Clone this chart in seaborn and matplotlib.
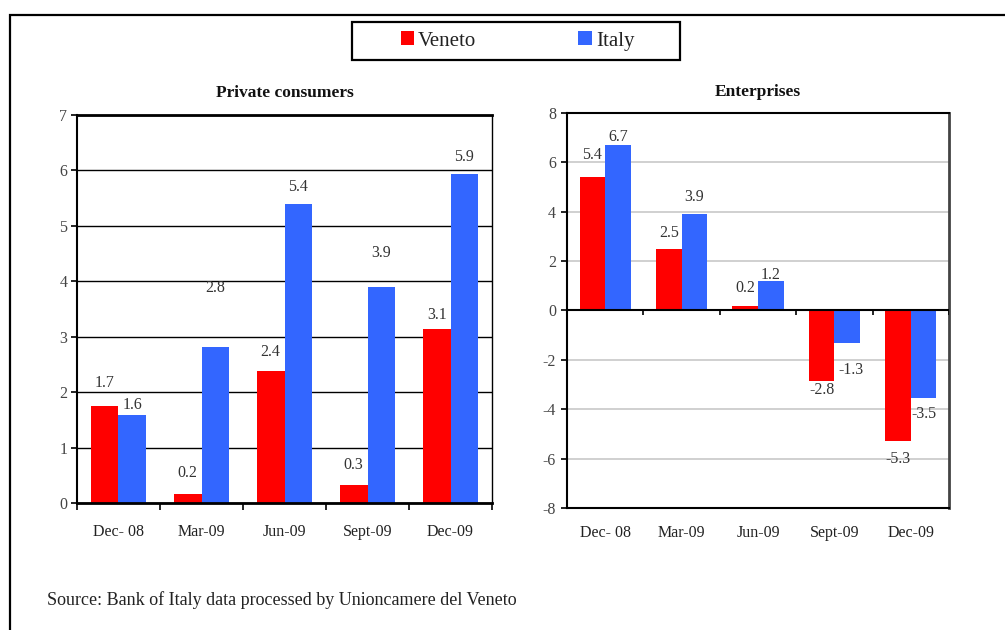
import numpy as np
import pandas as pd
import seaborn as sns
import matplotlib.pyplot as plt
from matplotlib.patches import Rectangle, Patch

# Data
periods = ["Dec- 08", "Mar-09", "Jun-09", "Sept-09", "Dec-09"]
series = ["Veneto", "Italy"]
colors = ["#FF0000", "#3366FF"]

private_veneto = [1.75, 0.17, 2.38, 0.33, 3.14]
private_italy = [1.58, 2.82, 5.40, 3.90, 5.94]
private_veneto_lbl = ["1.7", "0.2", "2.4", "0.3", "3.1"]
private_italy_lbl = ["1.6", "2.8", "5.4", "3.9", "5.9"]

ent_veneto = [5.40, 2.50, 0.18, -2.85, -5.30]
ent_italy = [6.70, 3.90, 1.20, -1.30, -3.55]
ent_veneto_lbl = ["5.4", "2.5", "0.2", "-2.8", "-5.3"]
ent_italy_lbl = ["6.7", "3.9", "1.2", "-1.3", "-3.5"]

source_text = "Source: Bank of Italy data processed by Unioncamere del Veneto"

# label offsets from bar end, in pixels (as placed in the original)
private_veneto_off = [(0, 23), (0, 21), (0, 19), (0, 20), (0, 14)]
private_italy_off = [(0, 10), (0, 59), (0, 17), (0, 34), (0, 17)]
ent_veneto_off = [(0, 22), (0, 16), (0, 18), (0, -9), (0, -18)]
ent_italy_off = [(0, 8), (0, 17), (0, 6), (4, -27), (0, -16)]


def to_long(v, i):
    return pd.DataFrame({
        "period": periods * 2,
        "series": ["Veneto"] * len(periods) + ["Italy"] * len(periods),
        "value": list(v) + list(i),
    })


def label_bars(ax, container, labels, offsets):
    for bar, txt, (dx, dy) in zip(container, labels, offsets):
        x = bar.get_x() + bar.get_width() / 2
        y = bar.get_y() + bar.get_height()
        ax.annotate(txt, (x, y), xytext=(dx, dy), textcoords='offset pixels',
                    ha='center', va='center', fontsize=11.5, color='#333333')


def main():
    sns.set_style("white")
    plt.rcParams['font.family'] = ['Liberation Serif', 'DejaVu Serif']
    plt.rcParams['axes.unicode_minus'] = False

    fig = plt.figure(figsize=(10.05, 6.3), dpi=100, facecolor='white')
    ax1 = fig.add_axes([0.0766, 0.2016, 0.413, 0.6159])
    ax2 = fig.add_axes([0.5642, 0.1937, 0.380, 0.6270])

    bounds = np.arange(len(periods) + 1) - 0.5

    # --- Private consumers
    sns.barplot(data=to_long(private_veneto, private_italy), x="period", y="value",
                hue="series", palette=colors, width=0.67, saturation=1,
                linewidth=0, edgecolor='none', legend=False, ax=ax1)
    ax1.set_ylim(0, 7)
    ax1.set_xlim(-0.5, len(periods) - 0.5)
    ax1.set_yticks(range(0, 8))
    ax1.yaxis.grid(True, color='black', linewidth=1.0)
    ax1.set_axisbelow(True)
    for s in ax1.spines.values():
        s.set_color('black')
        s.set_linewidth(1.0)
    ax1.spines['top'].set_linewidth(2.0)
    ax1.spines['bottom'].set_linewidth(2.0)
    ax1.spines['left'].set_linewidth(1.5)
    label_bars(ax1, ax1.containers[0], private_veneto_lbl, private_veneto_off)
    label_bars(ax1, ax1.containers[1], private_italy_lbl, private_italy_off)
    ax1.set_title("Private consumers", fontsize=12.5, fontweight='bold', pad=13, color='#111111')

    # --- Enterprises
    sns.barplot(data=to_long(ent_veneto, ent_italy), x="period", y="value",
                hue="series", palette=colors, width=0.67, saturation=1,
                linewidth=0, edgecolor='none', legend=False, ax=ax2)
    ax2.set_ylim(-8, 8)
    ax2.set_xlim(-0.5, len(periods) - 0.5)
    ax2.set_yticks(range(-8, 9, 2))
    ax2.yaxis.grid(True, color='#c8c8c8', linewidth=1.2)
    ax2.set_axisbelow(True)
    for s in ax2.spines.values():
        s.set_color('black')
        s.set_linewidth(1.5)
    ax2.spines['right'].set_color('#444444')
    ax2.spines['right'].set_linewidth(2.0)
    label_bars(ax2, ax2.containers[0], ent_veneto_lbl, ent_veneto_off)
    label_bars(ax2, ax2.containers[1], ent_italy_lbl, ent_italy_off)
    ax2.set_title("Enterprises", fontsize=12.5, fontweight='bold', pad=12, color='#111111')

    # zero axis with category separator ticks
    ax2.axhline(0, color='black', linewidth=1.5, zorder=3)
    ax2.vlines(bounds, -0.2, 0, color='black', linewidth=1.2, zorder=3)

    for ax in (ax1, ax2):
        ax.set_xlabel("")
        ax.set_ylabel("")
        ax.set_xticks(range(len(periods)))
        ax.set_xticklabels(periods)
        ax.tick_params(axis='x', which='major', length=0, labelsize=11.5, labelcolor='#222222')
        ax.tick_params(axis='y', length=4, width=1.2, direction='out', color='black',
                       labelsize=11.5, labelcolor='#444444', left=True)
    ax1.tick_params(axis='x', which='major', pad=15)
    ax2.tick_params(axis='x', which='major', pad=12)
    ax1.tick_params(axis='y', pad=3)
    ax2.tick_params(axis='y', pad=4)
    ax1.set_xticks(bounds, minor=True)
    ax1.tick_params(axis='x', which='minor', length=5, width=1.2, direction='out',
                    color='black', bottom=True)

    # legend
    handles = [Patch(facecolor=c, edgecolor='none') for c in colors]
    leg = fig.legend(handles, series, loc='center', bbox_to_anchor=(0.515, 0.935),
                     ncol=2, fontsize=15, frameon=False, columnspacing=4.9,
                     handlelength=0.63, handleheight=0.63, handletextpad=0.2,
                     borderaxespad=0)
    for t in leg.get_texts():
        t.set_color('#222222')
    fig.add_artist(Rectangle((352 / 1005, 1 - 60 / 630), 328 / 1005, 38 / 630,
                             transform=fig.transFigure, fill=False,
                             edgecolor='black', linewidth=1.6))

    fig.text(0.047, 0.048, source_text, fontsize=13, color='#222222', va='center')

    # outer frame (left and top edges visible)
    fig.add_artist(Rectangle((0.0100, -0.1), 1.2, 1.076, transform=fig.transFigure,
                             fill=False, edgecolor='black', linewidth=1.6))

    plt.savefig("out.png", dpi=100, facecolor='white')
    plt.close()


if __name__ == "__main__":
    main()
